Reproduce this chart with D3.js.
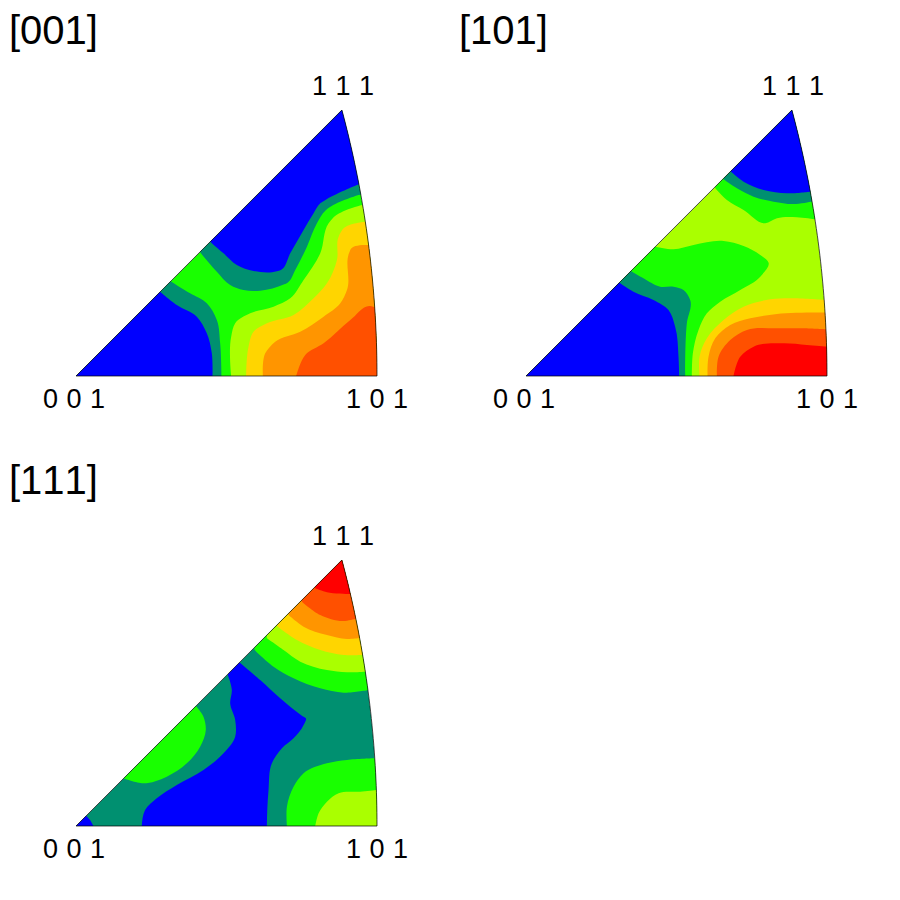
<!DOCTYPE html>
<html>
<head>
<meta charset="utf-8">
<script src="https://cdn.jsdelivr.net/npm/d3@7"></script>
<style>
  html, body { margin: 0; background: #fff; }
  text { font-family: "Liberation Sans", Arial, sans-serif; fill: #000; font-kerning: none; }
</style>
</head>
<body>
<div id="container"></div>
<script>
// contour levels, low to high
var levelColors = ['#0000ff', '#009070', '#19ff00', '#aaff00', '#ffd500', '#ff9500', '#ff5000', '#ff0000'];
var titles = ['[001]', '[101]', '[111]'];
var cornerLabels = ['0 0 1', '1 0 1', '1 1 1'];
var baseLevels = [2, 3, 1];

// each contour: [level, edge, points that close it outside the triangle]
// read-off units: 001 pole at (48,858), 101 pole at (950,858), 111 pole at (845,60)
var contours001 = [
  [1, [[330,573],[390,610],[440,640],[470,690],[480,760],[484,858]], [[484,900],[0,900],[0,400]]],
  [0, [[300,605],[350,645],[410,680],[440,730],[455,790],[457,858]], [[457,900],[0,900],[0,400]]],
  [1, [[420,487],[470,545],[510,585],[550,600],[600,602],[672,583],[682,578],[705,540],[740,470],[770,400],[795,362],[808,352],[895,315]], [[1000,300],[1000,0],[410,0]]],
  [0, [[450,455],[490,490],[530,525],[580,543],[650,544],[662,540],[690,490],[730,420],[760,370],[780,340],[792,332],[890,285]], [[1000,250],[1000,0],[440,0]]],
  [3, [[513,858],[513,740],[525,700],[570,670],[640,650],[690,625],[730,570],[780,490],[805,400],[820,382],[905,345]], [[1000,330],[1000,900],[513,900]]],
  [4, [[558,858],[565,770],[580,725],[620,700],[700,675],[760,625],[800,580],[830,510],[835,440],[850,415],[915,395]], [[1000,380],[1000,900],[558,900]]],
  [5, [[608,858],[615,790],[645,755],[720,725],[790,680],[840,640],[860,600],[866,490],[872,476],[925,465]], [[1000,460],[1000,900],[608,900]]],
  [6, [[708,858],[735,795],[790,760],[870,690],[930,648],[950,655]], [[1000,655],[1000,900],[708,900]]]
];

var contours101 = [
  [2, [[615,295],[650,330],[700,360],[765,400],[800,385],[860,382],[913,388]], [[1000,388],[1000,0],[600,0]]],
  [1, [[640,268],[680,295],[730,320],[790,335],[850,342],[902,335]], [[1000,330],[1000,0],[630,0]]],
  [0, [[660,243],[700,275],[760,300],[830,310],[898,305]], [[1000,300],[1000,0],[650,0]]],
  [2, [[436,470],[490,478],[550,465],[640,453],[700,468],[750,495],[775,518],[750,560],[690,600],[630,635],[590,670],[565,720],[548,790],[545,858]], [[545,900],[300,900],[300,500]]],
  [1, [[362,543],[400,565],[450,590],[490,590],[520,600],[540,630],[530,700],[525,858]], [[525,900],[0,900],[0,400]]],
  [0, [[328,578],[370,605],[430,630],[475,660],[495,710],[505,800],[507,858]], [[507,900],[0,900],[0,400]]],
  [4, [[568,858],[568,800],[590,745],[640,690],[700,650],[780,628],[850,625],[942,630]], [[1000,630],[1000,900],[568,900]]],
  [5, [[592,858],[595,800],[615,745],[660,705],[720,685],[800,672],[945,668]], [[1000,668],[1000,900],[592,900]]],
  [6, [[620,858],[625,800],[660,750],[710,720],[800,715],[880,715],[948,718]], [[1000,718],[1000,900],[620,900]]],
  [7, [[670,858],[690,800],[730,770],[820,760],[890,765],[950,770]], [[1000,770],[1000,900],[670,900]]]
];

var contours111 = [
  [2, [[583,330],[640,380],[700,415],[780,445],[850,458],[925,450]], [[1000,450],[1000,0],[560,0]]],
  [3, [[620,295],[670,330],[720,365],[800,390],[860,397],[915,395]], [[1000,395],[1000,0],[600,0]]],
  [4, [[650,258],[710,300],[780,330],[850,345],[905,345]], [[1000,345],[1000,0],[630,0]]],
  [5, [[685,225],[730,260],[800,285],[860,297],[895,295]], [[1000,295],[1000,0],[670,0]]],
  [6, [[725,185],[780,225],[850,243],[885,237]], [[1000,237],[1000,0],[710,0]]],
  [7, [[765,145],[800,157],[865,162]], [[1000,162],[1000,0],[750,0]]],
  [0, [[537,367],[600,420],[660,475],[725,527],[737,535],[730,555],[700,595],[665,625],[635,670],[625,750],[620,858],[620,900],[245,900],[245,858],[255,810],[290,775],[350,735],[430,690],[490,640],[525,590],[525,540],[510,490],[515,450],[503,405]], [[520,350]]],
  [2, [[407,497],[430,530],[437,570],[420,620],[380,670],[320,710],[250,730],[190,715]], [[100,700],[300,450]]],
  [2, [[680,858],[680,800],[700,740],[730,700],[800,670],[860,660],[942,655]], [[1000,655],[1000,900],[680,900]]],
  [3, [[765,858],[775,820],[800,785],[835,760],[900,755],[948,750]], [[1000,750],[1000,900],[765,900]]],
  [0, [[78,827],[90,840],[100,858]], [[100,900],[20,900],[20,850]]]
];

var panels = [
  { id: 'p001', contours: contours001, dx: 0, dy: 0 },
  { id: 'p101', contours: contours101, dx: 450, dy: 0 },
  { id: 'p111', contours: contours111, dx: 0, dy: 450 }
];

var svg = d3.select('#container').append('svg')
  .attr('width', 900)
  .attr('height', 900)
  .style('display', 'block');

// scales from read-off units to panel pixels
var x = d3.scaleLinear().domain([48, 950]).range([76, 377]);
var y = d3.scaleLinear().domain([60, 858]).range([110, 376]);

var edgeLine = d3.line()
  .x(function (d) { return x(d[0]); })
  .y(function (d) { return y(d[1]); })
  .curve(d3.curveCatmullRom.alpha(1));

// stereographic triangle: the right side is the arc of the circle round (-1, 0), radius sqrt 2
function outline() {
  var unit = (950 - 48) / (Math.SQRT2 - 1),
      a0 = Math.atan2(858 - 60, 845 - 48 + unit),
      pts = d3.range(0, 41).map(function (i) {
        var a = a0 * i / 40;
        return [48 - unit + unit * Math.SQRT2 * Math.cos(a), 858 - unit * Math.SQRT2 * Math.sin(a)];
      });
  return [[48, 858]].concat(pts);
}

function contourPath(c) {
  var rest = c[2].map(function (p) { return 'L' + x(p[0]) + ',' + y(p[1]); }).join('');
  return edgeLine(c[1]) + rest + 'Z';
}

var triangle = d3.line()
  .x(function (d) { return x(d[0]); })
  .y(function (d) { return y(d[1]); })(outline()) + 'Z';

panels.forEach(function (p, i) {
  var g = svg.append('g').attr('transform', 'translate(' + p.dx + ',' + p.dy + ')');

  g.append('clipPath').attr('id', 'clip-' + p.id)
    .append('path').attr('d', triangle);

  var body = g.append('g').attr('clip-path', 'url(#clip-' + p.id + ')');

  body.append('path')
    .attr('d', triangle)
    .attr('fill', levelColors[baseLevels[i]]);

  body.selectAll('path.level')
    .data(p.contours)
    .enter()
    .append('path')
    .attr('class', 'level')
    .attr('d', contourPath)
    .attr('fill', function (d) { return levelColors[d[0]]; });

  g.append('path')
    .attr('d', triangle)
    .attr('fill', 'none')
    .attr('stroke', '#000')
    .attr('stroke-width', 0.7);

  g.append('text')
    .attr('x', 9)
    .attr('y', 44)
    .attr('font-size', 40)
    .text(titles[i]);

  var labels = [
    { text: cornerLabels[0], x: 43, y: 408 },
    { text: cornerLabels[1], x: 346, y: 408 },
    { text: cornerLabels[2], x: 312, y: 95 }
  ];
  g.selectAll('text.corner')
    .data(labels)
    .enter()
    .append('text')
    .attr('class', 'corner')
    .attr('x', function (d) { return d.x; })
    .attr('y', function (d) { return d.y; })
    .attr('font-size', 27)
    .attr('xml:space', 'preserve')
    .style('word-spacing', '1px')
    .text(function (d) { return d.text; });
});
</script>
</body>
</html>
